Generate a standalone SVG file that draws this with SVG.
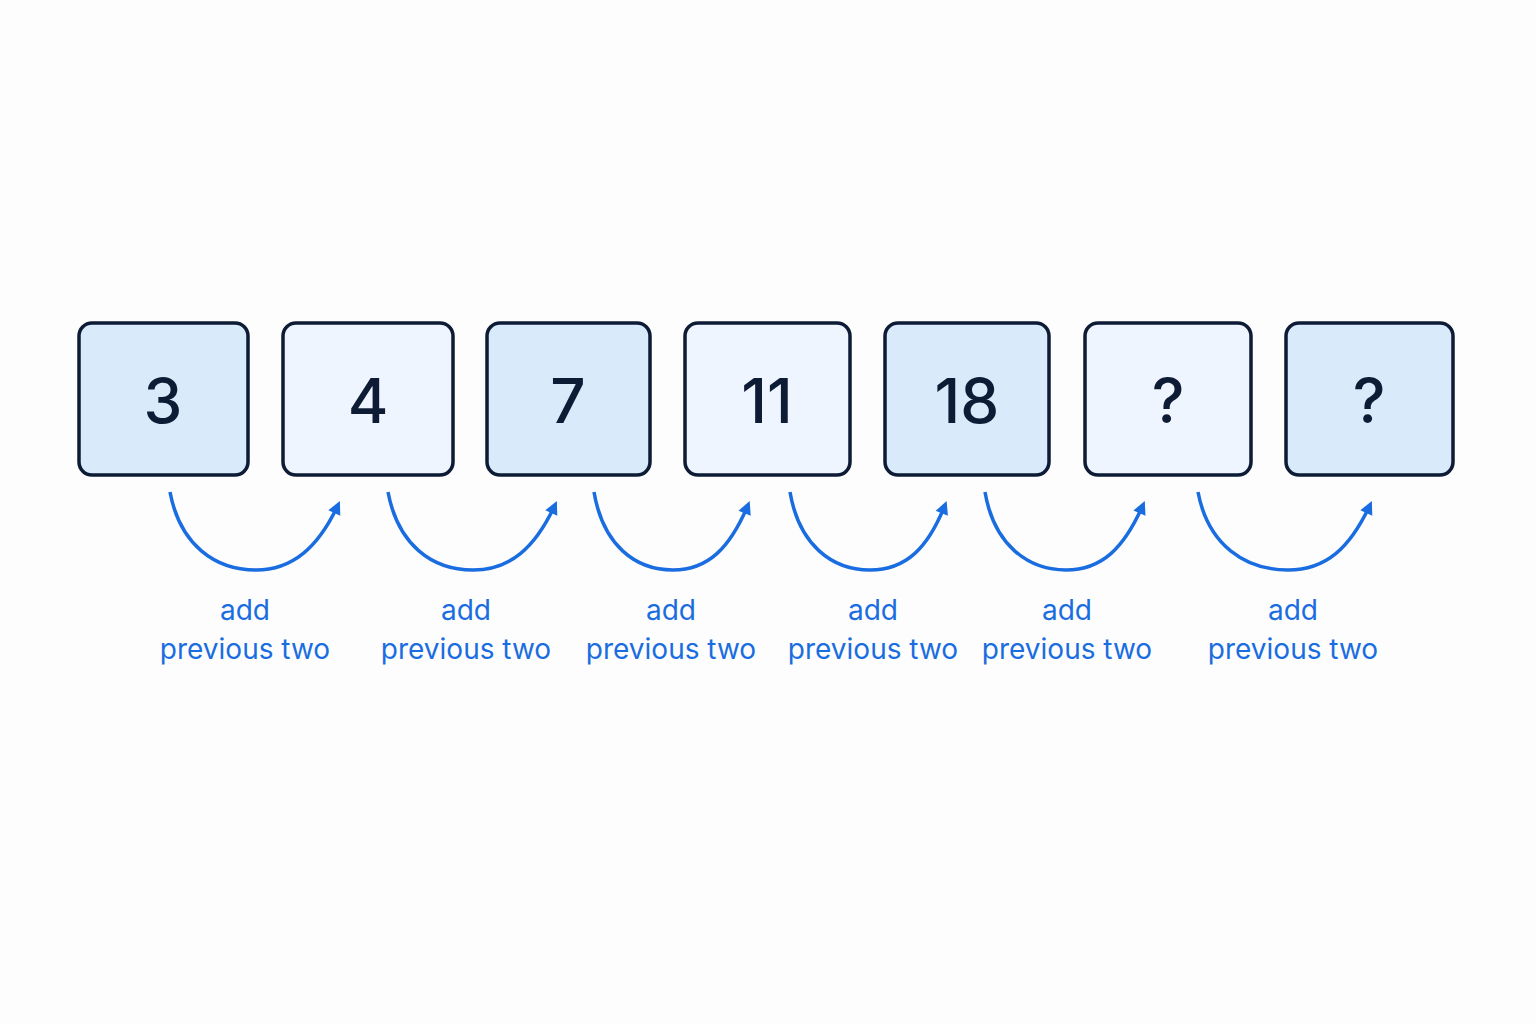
<svg xmlns="http://www.w3.org/2000/svg" width="1536" height="1024" viewBox="0 0 1536 1024">
<style>
.b{stroke:#0e1b35;stroke-width:3.5}
.d{fill:#d9eafb}.l{fill:#eef5fe}
.n{font-family:Inter,"Liberation Sans",sans-serif;font-size:62px;font-weight:500;fill:#0e1b35;text-anchor:middle}
.t{font-family:Inter,"Liberation Sans",sans-serif;font-size:28px;fill:#1a6de0;text-anchor:middle}
.a{fill:none;stroke:#1a6de0;stroke-width:3.5;marker-end:url(#m)}
</style>
<defs><marker id="m" viewBox="0 0 10 10" refX="6" refY="5" markerWidth="6" markerHeight="6" markerUnits="userSpaceOnUse" orient="auto" style="overflow:visible"><path d="M0,0 L10,5 L0,10 z" fill="#1a6de0" transform="scale(2.2) translate(-4,-2.7)"/></marker></defs>
<rect width="1536" height="1024" fill="#fdfdfd"/>
<g id="n1"><rect class="b d" x="79" y="323" width="169" height="152" rx="13"/><text class="n" x="163" y="423">3</text></g>
<g id="n2"><rect class="b l" x="283" y="323" width="170" height="152" rx="13"/><text class="n" x="368" y="423">4</text></g>
<g id="n3"><rect class="b d" x="487" y="323" width="163" height="152" rx="13"/><text class="n" x="568" y="423">7</text></g>
<g id="n4"><rect class="b l" x="685" y="323" width="165" height="152" rx="13"/><text class="n" x="767" y="423">11</text></g>
<g id="n5"><rect class="b d" x="885" y="323" width="164" height="152" rx="13"/><text class="n" x="967" y="423">18</text></g>
<g id="n6"><rect class="b l" x="1085" y="323" width="166" height="152" rx="13"/><text class="n" x="1168" y="423">?</text></g>
<g id="n7"><rect class="b d" x="1286" y="323" width="167" height="152" rx="13"/><text class="n" x="1369" y="423">?</text></g>
<g id="connectors">
<path class="a" d="M170,492 C180,545 215,570 256,570 C292,570 318,548 338,505"/>
<path class="a" d="M388,492 C398,545 432,570 473,570 C510,570 535,548 555,505"/>
<path class="a" d="M594,492 C603,545 635,570 673,570 C708,570 730,548 748,505"/>
<path class="a" d="M790,492 C799,545 832,570 870,570 C906,570 928,548 945,505"/>
<path class="a" d="M985,492 C994,545 1028,570 1066,570 C1102,570 1124,548 1143,505"/>
<path class="a" d="M1198,492 C1208,545 1245,570 1288,570 C1326,570 1350,548 1370,505"/>
</g>
<g id="labels">
<text class="t" x="245" y="620">add</text><text class="t" x="245" y="659">previous two</text>
<text class="t" x="466" y="620">add</text><text class="t" x="466" y="659">previous two</text>
<text class="t" x="671" y="620">add</text><text class="t" x="671" y="659">previous two</text>
<text class="t" x="873" y="620">add</text><text class="t" x="873" y="659">previous two</text>
<text class="t" x="1067" y="620">add</text><text class="t" x="1067" y="659">previous two</text>
<text class="t" x="1293" y="620">add</text><text class="t" x="1293" y="659">previous two</text>
</g>
</svg>
